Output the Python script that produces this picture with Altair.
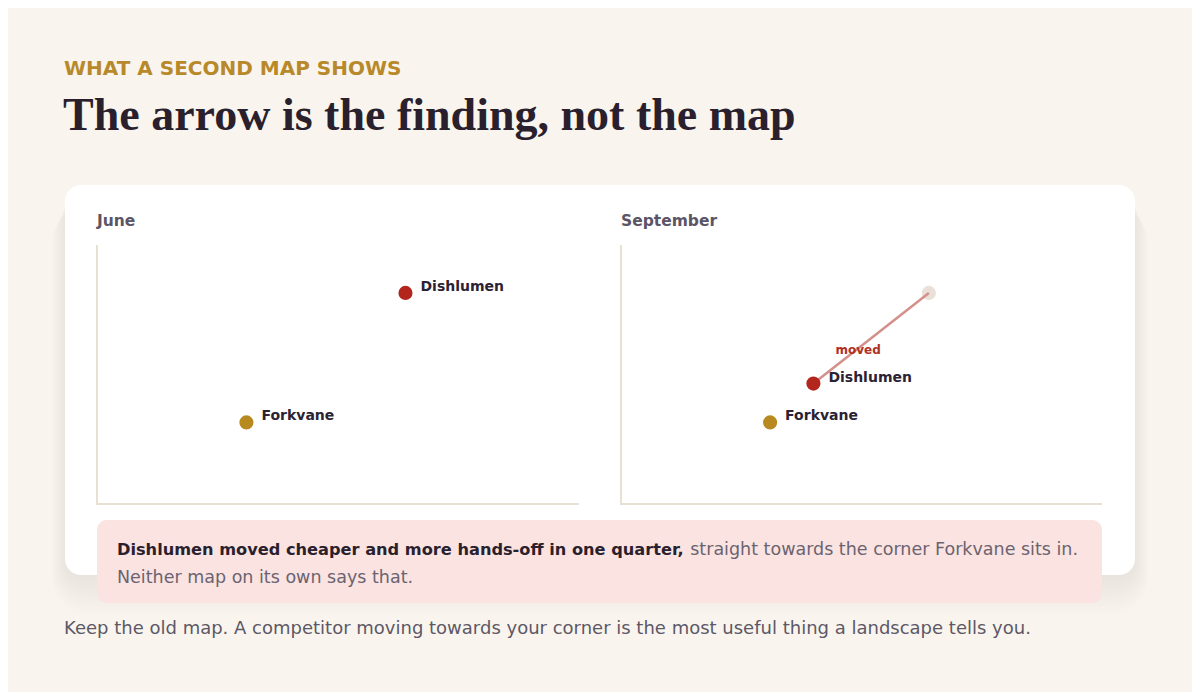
import altair as alt
import pandas as pd

# ---- data ----
companies = ["Dishlumen", "Forkvane"]
company_colors = ["#b3261e", "#b8891f"]
june_x = [64, 31]
june_y = [81.5, 31.5]
sept_x = [40, 31]
sept_y = [46.5, 31.5]
ghost_name = "Dishlumen"
ghost_x = 64
ghost_y = 81.5

panel_titles = ["June", "September"]
kicker = "WHAT A SECOND MAP SHOWS"
title = "The arrow is the finding, not the map"
callout_bold = "Dishlumen moved cheaper and more hands-off in one quarter,"
callout_rest = "straight towards the corner Forkvane sits in."
callout_line2 = "Neither map on its own says that."
footer = "Keep the old map. A competitor moving towards your corner is the most useful thing a landscape tells you."
moved_label = "moved"

W, H = 1184, 684
BODY = "DejaVu Sans"
BG = "#f9f5ee"
AXIS_COL = "#e9e0d4"

june_df = pd.DataFrame({"company": companies, "x": june_x, "y": june_y})
sept_df = pd.DataFrame({"company": companies, "x": sept_x, "y": sept_y})
move_df = pd.DataFrame({
    "company": [ghost_name, ghost_name],
    "x": [ghost_x, sept_x[0]],
    "y": [ghost_y, sept_y[0]],
    "order": [0, 1],
})
mid_df = pd.DataFrame({"label": [moved_label],
                       "x": [(ghost_x + sept_x[0]) / 2],
                       "y": [(ghost_y + sept_y[0]) / 2]})
ghost_df = pd.DataFrame({"company": [ghost_name], "x": [ghost_x], "y": [ghost_y]})

one = pd.DataFrame({"a": [0]})
base = alt.Chart(one)

def box(x, x2, y, y2, color, radius=0, opacity=1.0):
    return base.mark_rect(color=color, cornerRadius=radius, opacity=opacity).encode(
        x=alt.value(x), x2=alt.value(x2), y=alt.value(y), y2=alt.value(y2))

def txt(s, x, y, size, color, weight="normal", font=BODY, align="left"):
    return alt.Chart(pd.DataFrame({"t": [s]})).mark_text(
        align=align, baseline="alphabetic", fontSize=size, fontWeight=weight,
        font=font, color=color).encode(x=alt.value(x), y=alt.value(y), text="t:N")

layers = []

# card shadow (stacked soft rects)
for i in range(16):
    spread = i * 1.5
    layers.append(box(57 - spread * 0.6, 1127 + spread * 0.6, 177 + 10 + i * 0.8,
                      567 + 2 + i * 2.5, "#8a7050", radius=16 + spread, opacity=0.007))
# card
layers.append(box(57, 1127, 177, 567, "#ffffff", radius=16))

# header
layers.append(txt(kicker, 56, 67, 20, "#b8892a", weight="bold"))
layers.append(txt(title, 55, 122, 46, "#2a1f2d", weight="bold", font="Liberation Serif"))

# panels
panels = [(89, 571), (613, 1094)]
y_top, y_bot = 237, 496
for (x0, x1), pt in zip(panels, panel_titles):
    layers.append(txt(pt, x0, 218, 15.5, "#5b5566", weight="bold"))
    layers.append(base.mark_rule(color=AXIS_COL, strokeWidth=2).encode(
        x=alt.value(x0), y=alt.value(y_top), y2=alt.value(y_bot + 1)))
    layers.append(base.mark_rule(color=AXIS_COL, strokeWidth=2).encode(
        x=alt.value(x0), x2=alt.value(x1), y=alt.value(y_bot)))

ydom = alt.Scale(domain=[0, 100], range=[y_bot, y_top])
color_scale = alt.Scale(domain=companies, range=company_colors)

def pts(df, xr):
    xs = alt.Scale(domain=[0, 100], range=list(xr))
    return alt.Chart(df).mark_circle(size=200, opacity=1).encode(
        x=alt.X("x:Q", scale=xs, axis=None),
        y=alt.Y("y:Q", scale=ydom, axis=None),
        color=alt.Color("company:N", scale=color_scale, legend=None))

def labs(df, xr):
    xs = alt.Scale(domain=[0, 100], range=list(xr))
    return alt.Chart(df).mark_text(align="left", baseline="middle", dx=15, dy=-6,
                                   fontSize=14, fontWeight="bold", font=BODY,
                                   color="#2b2233").encode(
        x=alt.X("x:Q", scale=xs, axis=None),
        y=alt.Y("y:Q", scale=ydom, axis=None),
        text="company:N")

xs_sept = alt.Scale(domain=[0, 100], range=list(panels[1]))

june_layer = alt.layer(pts(june_df, panels[0]), labs(june_df, panels[0]))

ghost = alt.Chart(ghost_df).mark_circle(size=200, opacity=1, color="#e9e1d7").encode(
    x=alt.X("x:Q", scale=xs_sept, axis=None), y=alt.Y("y:Q", scale=ydom, axis=None))
move_line = alt.Chart(move_df).mark_line(color="#d4908a", strokeWidth=2.5).encode(
    x=alt.X("x:Q", scale=xs_sept, axis=None), y=alt.Y("y:Q", scale=ydom, axis=None),
    order="order:Q")
moved = alt.Chart(mid_df).mark_text(align="center", baseline="middle", dx=-13, dy=12,
                                    fontSize=12, fontWeight="bold", font=BODY,
                                    color="#b0301f").encode(
    x=alt.X("x:Q", scale=xs_sept, axis=None), y=alt.Y("y:Q", scale=ydom, axis=None),
    text="label:N")
sept_layer = alt.layer(ghost, move_line, pts(sept_df, panels[1]), labs(sept_df, panels[1]), moved)

layers.append(june_layer)
layers.append(sept_layer)

# callout
layers.append(box(89, 1094, 512, 595, "#fae3e1", radius=10))
layers.append(txt(callout_bold, 109, 547, 16.2, "#2a1f2d", weight="bold"))
layers.append(txt(callout_rest, 1070, 547, 17.5, "#6b6470", align="right"))
layers.append(txt(callout_line2, 109, 575, 17.5, "#6b6470"))

# footer
layers.append(txt(footer, 56, 626, 18, "#5d5866"))

chart = alt.layer(*layers).resolve_scale(x="independent", y="independent", color="independent").properties(
    width=W, height=H, background=BG, padding=0,
    autosize=alt.AutoSizeParams(type="none"),
).configure_view(strokeWidth=0)

chart.save("out.html", embed_options={"renderer": "svg", "actions": False})
